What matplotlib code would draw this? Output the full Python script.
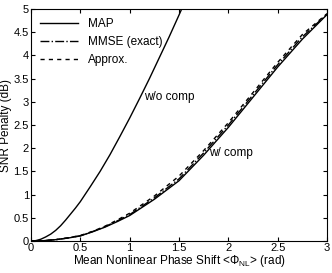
import matplotlib
matplotlib.use("Agg")
import matplotlib.pyplot as plt

plt.rcParams['font.family'] = ['Liberation Sans', 'DejaVu Sans']
plt.rcParams['mathtext.fontset'] = 'custom'
plt.rcParams['mathtext.rm'] = 'Liberation Sans'
plt.rcParams['mathtext.it'] = 'Liberation Sans:italic'

# w/o compensation (MAP)
x_wo = [0, 0.05, 0.1, 0.15, 0.2, 0.25, 0.3, 0.35, 0.4, 0.45, 0.5, 0.6, 0.7, 0.8, 0.9,
        1.0, 1.1, 1.2, 1.3, 1.4, 1.5, 1.6]
map_wo = [0, 0.01, 0.04, 0.09, 0.15, 0.23, 0.33, 0.45, 0.58, 0.71, 0.85, 1.17, 1.5, 1.86,
          2.25, 2.65, 3.07, 3.5, 3.95, 4.4, 4.87, 5.35]

# w/ compensation
x_w = [0, 0.125, 0.25, 0.375, 0.5, 0.625, 0.75, 0.875, 1.0, 1.25, 1.5, 1.75, 2.0, 2.25,
       2.5, 2.75, 3.0]
map_w = [0, 0.008, 0.03, 0.065, 0.11, 0.2, 0.30, 0.42, 0.55, 0.90, 1.30, 1.85, 2.45, 3.10,
         3.75, 4.35, 4.88]
mmse_w = [0, 0.008, 0.03, 0.067, 0.115, 0.205, 0.31, 0.435, 0.57, 0.93, 1.34, 1.90, 2.50,
          3.15, 3.80, 4.40, 4.89]
approx_w = [0, 0.008, 0.03, 0.07, 0.12, 0.21, 0.32, 0.455, 0.60, 0.97, 1.40, 1.95, 2.55,
            3.20, 3.85, 4.45, 4.90]

xticks = [0, 0.5, 1, 1.5, 2, 2.5, 3]
xticklabels = ['0', '0.5', '1', '1.5', '2', '2.5', '3']
yticks = [0, 0.5, 1, 1.5, 2, 2.5, 3, 3.5, 4, 4.5, 5]
yticklabels = ['0', '0.5', '1', '1.5', '2', '2.5', '3', '3.5', '4', '4.5', '5']

fig = plt.figure(figsize=(3.32, 2.73), dpi=100)
ax = fig.add_axes([0.0934, 0.117, 0.8916, 0.85])

lw = 1.0
ax.plot(x_wo, map_wo, color='black', lw=lw, label='MAP')
ax.plot(x_w, mmse_w, color='black', lw=lw, ls='-.', label='MMSE (exact)')
ax.plot(x_w, approx_w, color='black', lw=lw, ls=(0, (3, 3)), label='Approx.')
ax.plot(x_w, map_w, color='black', lw=lw)

ax.set_xlim(0, 3)
ax.set_ylim(0, 5)
ax.set_xticks(xticks)
ax.set_xticklabels(xticklabels)
ax.set_yticks(yticks)
ax.set_yticklabels(yticklabels)
ax.tick_params(direction='in', top=True, right=True, labelsize=8, length=3, pad=1.5)

ax.set_xlabel(r'Mean Nonlinear Phase Shift <$\Phi_{\mathrm{NL}}$> (rad)', fontsize=8.5, labelpad=0)
ax.set_ylabel('SNR Penalty (dB)', fontsize=8.5, labelpad=1)

ax.text(1.15, 3.1, 'w/o comp', fontsize=8.5, va='center', ha='left')
ax.text(1.8, 1.9, 'w/ comp', fontsize=8.5, va='center', ha='left')

leg = ax.legend(loc='upper left', frameon=False, fontsize=8.5, handlelength=3.2,
                handletextpad=0.8, labelspacing=0.5, borderaxespad=0.4)

fig.savefig('out.png', dpi=100)
